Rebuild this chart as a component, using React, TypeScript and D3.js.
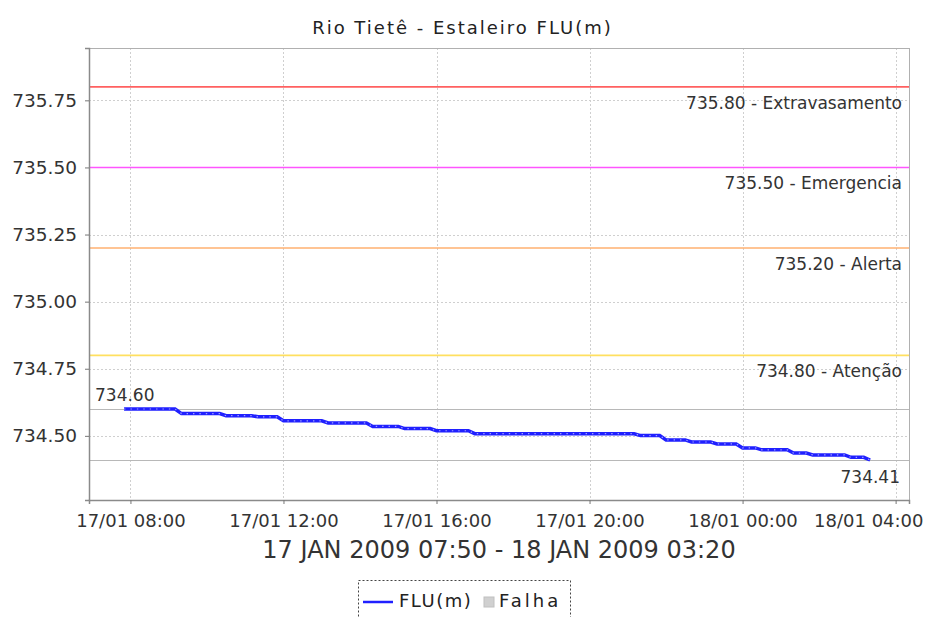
import React, { useEffect, useRef } from 'react';
import * as d3 from 'd3';

// level readings (vertices of the plotted line)
const obsTimes = [
    '17/01 07:50', '17/01 09:10', '17/01 09:20', '17/01 10:20', '17/01 10:30',
    '17/01 11:10', '17/01 11:20', '17/01 11:50', '17/01 12:00', '17/01 13:00',
    '17/01 13:10', '17/01 14:10', '17/01 14:20', '17/01 15:00', '17/01 15:10',
    '17/01 15:50', '17/01 16:00', '17/01 16:50', '17/01 17:00', '17/01 21:10',
    '17/01 21:20', '17/01 21:50', '17/01 22:00', '17/01 22:30', '17/01 22:40',
    '17/01 23:10', '17/01 23:20', '17/01 23:50', '18/01 00:00', '18/01 00:20',
    '18/01 00:30', '18/01 01:10', '18/01 01:20', '18/01 01:40', '18/01 01:50',
    '18/01 02:40', '18/01 02:50', '18/01 03:10', '18/01 03:20'
];
const obsLevels = [
    734.600, 734.600, 734.583, 734.583, 734.575,
    734.575, 734.571, 734.571, 734.556, 734.556,
    734.548, 734.548, 734.535, 734.535, 734.527,
    734.527, 734.519, 734.519, 734.508, 734.508,
    734.501, 734.501, 734.485, 734.485, 734.477,
    734.477, 734.470, 734.470, 734.455, 734.455,
    734.448, 734.448, 734.436, 734.436, 734.429,
    734.429, 734.420, 734.420, 734.410
];

const markerValues = [735.8, 735.5, 735.2, 734.8];
const markerNames = ['Extravasamento', 'Emergencia', 'Alerta', 'Atenção'];
const markerColors = ['#ff6060', '#ff55ff', '#ffb070', '#ffe060'];

const yTicks = [734.5, 734.75, 735.0, 735.25, 735.5, 735.75];
const xTicks = ['17/01 08:00', '17/01 12:00', '17/01 16:00', '17/01 20:00', '18/01 00:00', '18/01 04:00'];
const xRange = ['17/01 06:55', '18/01 04:21'];
const yRange = [734.261, 735.945];

const chartTitle = 'Rio Tietê - Estaleiro FLU(m)';
const periodLabel = '17 JAN 2009 07:50 - 18 JAN 2009 03:20';
const seriesName = 'FLU(m)';
const failName = 'Falha';

const parseTime = (s) => d3.utcParse('%d/%m %H:%M %Y')(s + ' 2009');

const LevelChart = () => {
    const svgRef = useRef();

    useEffect(() => {
        const W = 925, H = 617;
        const margin = { top: 48, right: 16, bottom: 117, left: 89 };
        const width = W - margin.left - margin.right;
        const height = H - margin.top - margin.bottom;
        const font = 'DejaVu Sans, sans-serif';
        const crisp = (v) => Math.round(v) + 0.5;

        const root = d3.select(svgRef.current);
        root.selectAll('*').remove();
        root.append('rect').attr('width', W).attr('height', H).attr('fill', '#fff');

        const data = obsTimes.map((t, i) => ({ t: parseTime(t), v: obsLevels[i] }));

        const x = d3.scaleUtc().domain(xRange.map(parseTime)).range([0, width]);
        const y = d3.scaleLinear().domain(yRange).range([height, 0]);

        // title
        root.append('text')
            .attr('x', W / 2).attr('y', 34)
            .attr('text-anchor', 'middle')
            .style('font-family', font).style('font-size', '18px')
            .style('letter-spacing', '2px')
            .attr('fill', '#222')
            .text(chartTitle);

        const svg = root.append('g').attr('transform', `translate(${margin.left},${margin.top})`);

        // grid
        svg.append('g').selectAll('line')
            .data(yTicks).enter().append('line')
            .attr('x1', 0).attr('x2', width)
            .attr('y1', (d) => crisp(y(d))).attr('y2', (d) => crisp(y(d)))
            .attr('stroke', '#cfcfcf').attr('stroke-dasharray', '2,2');
        svg.append('g').selectAll('line')
            .data(xTicks.map(parseTime)).enter().append('line')
            .attr('x1', (d) => crisp(x(d))).attr('x2', (d) => crisp(x(d)))
            .attr('y1', 0).attr('y2', height)
            .attr('stroke', '#cfcfcf').attr('stroke-dasharray', '2,2');

        // threshold markers
        markerValues.forEach((v, i) => {
            svg.append('line')
                .attr('x1', 0).attr('x2', width)
                .attr('y1', y(v)).attr('y2', y(v))
                .attr('stroke', markerColors[i]).attr('stroke-width', 1.6);
            svg.append('text')
                .attr('x', width - 7).attr('y', y(v) + 22)
                .attr('text-anchor', 'end')
                .style('font-family', font).style('font-size', '17px')
                .attr('fill', '#333')
                .text(`${v.toFixed(2)} - ${markerNames[i]}`);
        });

        // max / min lines
        const vMax = d3.max(obsLevels), vMin = d3.min(obsLevels);
        [vMax, vMin].forEach((v) => {
            svg.append('line')
                .attr('x1', 0).attr('x2', width)
                .attr('y1', crisp(y(v))).attr('y2', crisp(y(v)))
                .attr('stroke', '#b8b8b8').attr('stroke-width', 1);
        });
        svg.append('text')
            .attr('x', 6).attr('y', y(vMax) - 8)
            .style('font-family', font).style('font-size', '17px')
            .attr('fill', '#333')
            .text(vMax.toFixed(2));
        svg.append('text')
            .attr('x', width - 9).attr('y', y(vMin) + 23)
            .attr('text-anchor', 'end')
            .style('font-family', font).style('font-size', '17px')
            .attr('fill', '#333')
            .text(vMin.toFixed(2));

        // series line
        const line = d3.line().x((d) => x(d.t)).y((d) => y(d.v));
        svg.append('path').datum(data)
            .attr('d', line).attr('fill', 'none')
            .attr('stroke', '#2020ff').attr('stroke-width', 3.5);
        svg.append('path').datum(data)
            .attr('d', line).attr('fill', 'none')
            .attr('stroke', '#a0a0ff').attr('stroke-width', 1.2)
            .attr('stroke-dasharray', '1.4,5');

        // plot outline
        svg.append('rect')
            .attr('x', 0.5).attr('y', 0.5)
            .attr('width', width).attr('height', height)
            .attr('fill', 'none').attr('stroke', '#b0b0b0');

        // axes
        const yAxis = svg.append('g')
            .call(d3.axisLeft(y).tickValues(yTicks).tickFormat(d3.format('.2f')).tickSize(4).tickPadding(8));
        const xAxis = svg.append('g')
            .attr('transform', `translate(0,${height})`)
            .call(d3.axisBottom(x).tickValues(xTicks.map(parseTime))
                .tickFormat(d3.utcFormat('%d/%m %H:%M')).tickSize(4).tickPadding(10));
        [yAxis, xAxis].forEach((a) => {
            a.select('.domain').attr('stroke', '#8a8a8a').attr('stroke-width', 1.5);
            a.selectAll('.tick line').attr('stroke', '#777');
            a.selectAll('.tick text')
                .style('font-family', font).style('font-size', '18px')
                .attr('fill', '#333');
        });
        yAxis.selectAll('.tick text').style('font-size', '18.5px');
        // keep the last date label inside the picture
        xAxis.selectAll('.tick text')
            .filter((d, i, nodes) => i === nodes.length - 1)
            .attr('text-anchor', 'end')
            .attr('dx', W - margin.left - x(parseTime(xTicks[xTicks.length - 1])) - 2);

        // period label
        svg.append('text')
            .attr('x', width / 2).attr('y', height + 58)
            .attr('text-anchor', 'middle')
            .style('font-family', font).style('font-size', '24px')
            .attr('fill', '#333')
            .text(periodLabel);

        // legend
        const lg = root.append('g');
        lg.append('rect')
            .attr('x', 358.5).attr('y', 580.5).attr('width', 212).attr('height', 60)
            .attr('fill', '#fff').attr('stroke', '#444').attr('stroke-dasharray', '2,2');
        lg.append('line')
            .attr('x1', 363).attr('x2', 393).attr('y1', 602).attr('y2', 602)
            .attr('stroke', '#2020ff').attr('stroke-width', 2.5);
        lg.append('text')
            .attr('x', 399).attr('y', 607)
            .style('font-family', font).style('font-size', '18px')
            .style('letter-spacing', '1.5px')
            .attr('fill', '#222')
            .text(seriesName);
        lg.append('rect')
            .attr('x', 484).attr('y', 597).attr('width', 10).attr('height', 10)
            .attr('fill', '#d0d0d0').attr('stroke', '#c0c0c0');
        lg.append('text')
            .attr('x', 499).attr('y', 607)
            .style('font-family', font).style('font-size', '18px')
            .style('letter-spacing', '3px')
            .attr('fill', '#222')
            .text(failName);
    }, []);

    return (
        <svg ref={svgRef} width={925} height={617}
            style={{ position: 'absolute', left: 0, top: 0 }}></svg>
    );
};

export default function App() {
    return <LevelChart />;
}
